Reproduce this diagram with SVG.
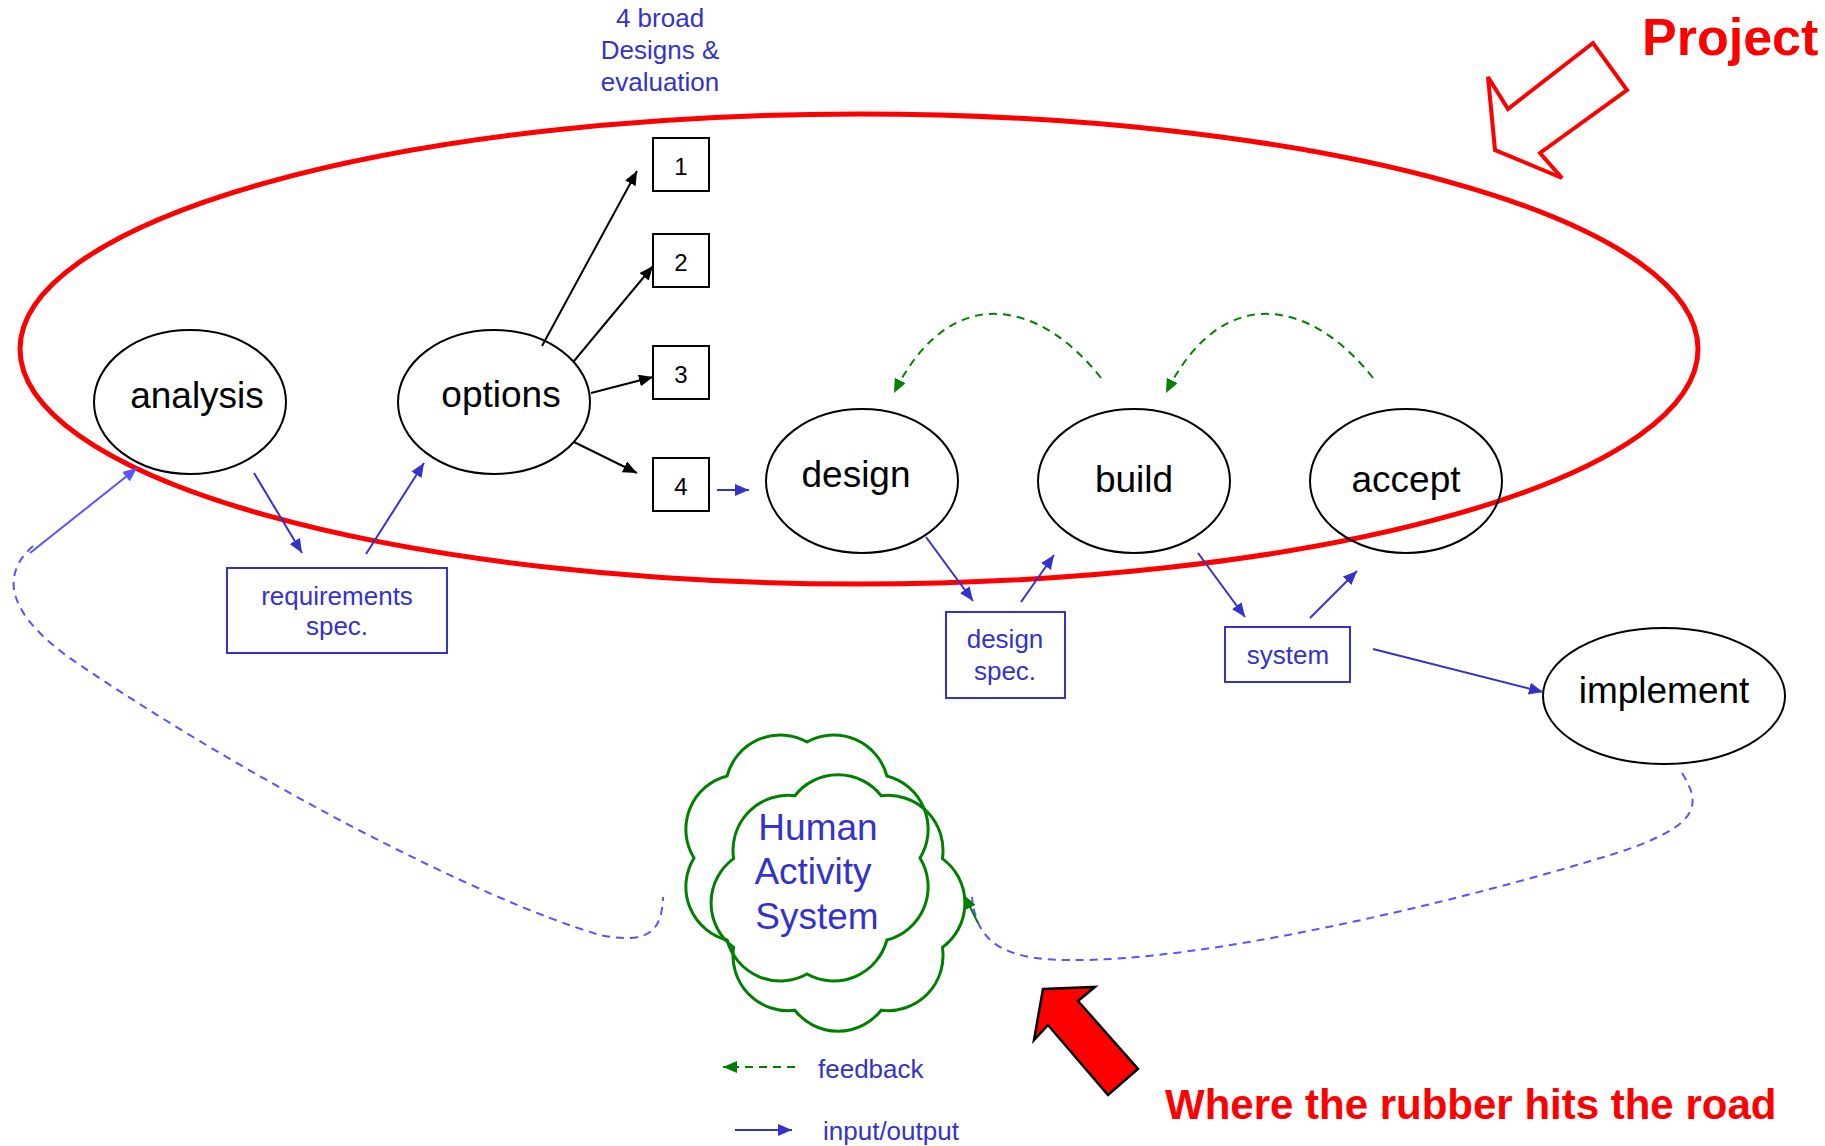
<svg xmlns="http://www.w3.org/2000/svg" width="1825" height="1146" viewBox="0 0 1825 1146">
<style>
text{font-family:"Liberation Sans",Arial,sans-serif}
.node{fill:none;stroke:#000;stroke-width:2}
.lbl{font-size:37px;fill:#000;text-anchor:middle}
.sm{font-size:26px;fill:#3333CC;text-anchor:middle}
.box{fill:none;stroke:#3333CC;stroke-width:2}
.nbox{fill:none;stroke:#000;stroke-width:2}
.num{font-size:24px;fill:#000;text-anchor:middle}
.blk{stroke:#000;stroke-width:2;fill:none;marker-end:url(#mk)}
.blu{stroke:#3333CC;stroke-width:2;fill:none;marker-end:url(#mb)}
.fb{stroke:#008000;stroke-width:2;fill:none;stroke-dasharray:8 6;marker-end:url(#mg)}
.dsh{stroke:#5555FF;stroke-width:2;fill:none;stroke-dasharray:8 6}
.cloud{fill:none;stroke:#008000;stroke-width:3}
</style>
<defs>
<marker id="mk" viewBox="0 0 14 12" refX="14" refY="6" markerWidth="14" markerHeight="12" markerUnits="userSpaceOnUse" orient="auto"><path d="M0,0 L14,6 L0,12 z" fill="#000"/></marker>
<marker id="mb" viewBox="0 0 14 12" refX="14" refY="6" markerWidth="14" markerHeight="12" markerUnits="userSpaceOnUse" orient="auto"><path d="M0,0 L14,6 L0,12 z" fill="#3333CC"/></marker>
<marker id="mg" viewBox="0 0 14 12" refX="14" refY="6" markerWidth="14" markerHeight="12" markerUnits="userSpaceOnUse" orient="auto"><path d="M0,0 L14,6 L0,12 z" fill="#008000"/></marker>
<marker id="ml" viewBox="0 0 14 12" refX="14" refY="6" markerWidth="14" markerHeight="12" markerUnits="userSpaceOnUse" orient="auto"><path d="M0,0 L14,6 L0,12 z" fill="#5555FF"/></marker>
</defs>

<g id="project-boundary">
<ellipse cx="859" cy="349" rx="839" ry="235" fill="none" stroke="#FF0000" stroke-width="5"/>
</g>

<g id="project-label">
<text x="1642" y="55" font-size="52" font-weight="bold" fill="#FF0000">Project</text>
<polygon points="1495,150 1488,77 1508,109 1593,43 1627,90 1540,153 1562,178" fill="#fff" stroke="#FF0000" stroke-width="4" stroke-linejoin="miter"/>
</g>

<g id="designs-note">
<text class="sm" x="660" y="27">4 broad</text>
<text class="sm" x="660" y="59">Designs &amp;</text>
<text class="sm" x="660" y="91">evaluation</text>
</g>

<g id="analysis"><ellipse class="node" cx="190" cy="402" rx="96" ry="72"/><text class="lbl" x="197" y="408">analysis</text></g>
<g id="options"><ellipse class="node" cx="494" cy="402" rx="96" ry="72"/><text class="lbl" x="501" y="407">options</text></g>
<g id="opt1"><rect class="nbox" x="653" y="138" width="56" height="53"/><text class="num" x="681" y="175">1</text></g>
<g id="opt2"><rect class="nbox" x="653" y="234" width="56" height="53"/><text class="num" x="681" y="271">2</text></g>
<g id="opt3"><rect class="nbox" x="653" y="346" width="56" height="53"/><text class="num" x="681" y="383">3</text></g>
<g id="opt4"><rect class="nbox" x="653" y="458" width="56" height="53"/><text class="num" x="681" y="495">4</text></g>
<g id="design"><ellipse class="node" cx="862" cy="481" rx="96" ry="72"/><text class="lbl" x="856" y="487">design</text></g>
<g id="build"><ellipse class="node" cx="1134" cy="481" rx="96" ry="72"/><text class="lbl" x="1134" y="492">build</text></g>
<g id="accept"><ellipse class="node" cx="1406" cy="481" rx="96" ry="72"/><text class="lbl" x="1406" y="492">accept</text></g>
<g id="implement"><ellipse class="node" cx="1664" cy="696" rx="121" ry="68"/><text class="lbl" x="1664" y="703">implement</text></g>

<g id="requirements-spec"><rect class="box" x="227" y="568" width="220" height="85"/><text class="sm" x="337" y="605">requirements</text><text class="sm" x="337" y="635">spec.</text></g>
<g id="design-spec"><rect class="box" x="946" y="612" width="119" height="86"/><text class="sm" x="1005" y="648">design</text><text class="sm" x="1005" y="680">spec.</text></g>
<g id="system"><rect class="box" x="1225" y="627" width="125" height="55"/><text class="sm" x="1288" y="664">system</text></g>

<g id="human-activity-system">
<path class="cloud" d="M807,742 A55,55 0 0 1 886.9,776 A55,55 0 0 1 920,858 A55,55 0 0 1 886.9,940 A55,55 0 0 1 807,974 A55,55 0 0 1 727.1,940 A55,55 0 0 1 694,858 A55,55 0 0 1 727.1,776 A55,55 0 0 1 807,742 Z"/>
<path class="cloud" d="M881.2,795.8 A55,55 0 0 1 942.4,858.6 A55,55 0 0 1 942.4,947.4 A55,55 0 0 1 881.2,1010.2 A55,55 0 0 1 794.8,1010.2 A55,55 0 0 1 733.6,947.4 A55,55 0 0 1 733.6,858.6 A55,55 0 0 1 794.8,795.8 A55,55 0 0 1 881.2,795.8 Z"/>
<text x="818" y="840" font-size="37" fill="#3333CC" text-anchor="middle">Human</text>
<text x="813" y="884" font-size="37" fill="#3333CC" text-anchor="middle">Activity</text>
<text x="817" y="929" font-size="37" fill="#3333CC" text-anchor="middle">System</text>
</g>

<g id="connectors">
<line class="blk" x1="542" y1="346" x2="637" y2="171"/>
<line class="blk" x1="574" y1="361" x2="653" y2="266"/>
<line class="blk" x1="591" y1="393" x2="653" y2="377"/>
<line class="blk" x1="574" y1="442" x2="637" y2="473"/>
<line class="blu" x1="717" y1="490" x2="749" y2="490"/>
<line class="blu" x1="254" y1="473" x2="302" y2="553"/>
<line class="blu" x1="366" y1="554" x2="424" y2="463"/>
<line class="blu" x1="926" y1="537" x2="973" y2="601"/>
<line class="blu" x1="1021" y1="602" x2="1054" y2="555"/>
<line class="blu" x1="1198" y1="553" x2="1245" y2="617"/>
<line class="blu" x1="1310" y1="618" x2="1357" y2="571"/>
<line class="blu" x1="1373" y1="649" x2="1543" y2="692"/>
<path class="fb" d="M1101,378 C1040,300 950,280 894,393"/>
<path class="fb" d="M1373,378 C1312,300 1222,280 1166,393"/>
<path class="dsh" d="M1682,773 C1702,805 1700,825 1620,852 C1450,905 1200,962 1070,960 C1000,960 976,940 972,897"/>
<path class="dsh" d="M33,546 C0,575 5,615 80,665 C250,780 480,900 600,935 C650,945 662,930 663,897"/>
<line x1="30" y1="553" x2="137" y2="468" stroke="#5555FF" stroke-width="2" marker-end="url(#ml)"/>
<line x1="978" y1="923" x2="964" y2="895" stroke="#008000" stroke-width="2" marker-end="url(#mg)"/>
</g>

<g id="legend">
<line class="fb" x1="795" y1="1067" x2="723" y2="1067"/>
<text class="sm" x="818" y="1078" style="text-anchor:start">feedback</text>
<line class="blu" x1="735" y1="1130" x2="792" y2="1130"/>
<text class="sm" x="823" y="1140" style="text-anchor:start">input/output</text>
</g>

<g id="rubber-road">
<polygon points="1043,989 1095,987 1078,1001 1138,1069 1108,1095 1048,1025 1034,1040" fill="#FF0000" stroke="#000" stroke-width="2.5" stroke-linejoin="miter"/>
<text x="1165" y="1119" font-size="42" font-weight="bold" fill="#FF0000">Where the rubber hits the road</text>
</g>
</svg>
